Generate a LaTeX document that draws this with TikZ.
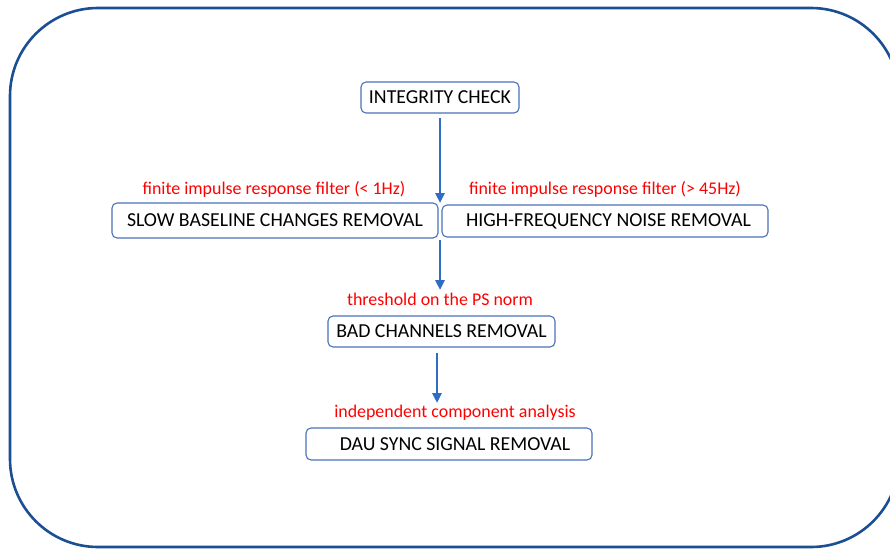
\documentclass[tikz,border=0pt]{standalone}
\usepackage{fontspec}
\setmainfont{Carlito}
\usetikzlibrary{arrows.meta}
\definecolor{framecol}{HTML}{1B4F93}
\definecolor{boxcol}{HTML}{4A72B8}
\definecolor{arrowcol}{HTML}{2F6CC4}
\definecolor{notecol}{HTML}{FF0000}
\tikzset{
  stagebox/.style={draw=boxcol, line width=1.1pt, rounded corners=5pt, fill=white,
    inner sep=0pt, font=\fontsize{19.8}{23}\selectfont, text=black},
  note/.style={font=\fontsize{17.9}{21}\selectfont, text=notecol, inner sep=0pt},
  flow/.style={draw=arrowcol, line width=2.6pt, -{Triangle[length=10pt,width=9pt]}},
}
\begin{document}
\begin{tikzpicture}[x=1pt,y=-1pt]
  \useasboundingbox (0,0) rectangle (890,549);
  % outer frame, running past the right edge
  \draw[framecol, line width=2.6pt, rounded corners=88pt] (10,8) rectangle (899,547);

  % pipeline stages
  \node[stagebox, minimum width=158pt, minimum height=31pt] (integrity) at (440,97.5) {INTEGRITY CHECK};
  \node[stagebox, minimum width=326pt, minimum height=35pt] (slow) at (275,220.5) {SLOW BASELINE CHANGES REMOVAL};
  \node[stagebox, minimum width=326pt, minimum height=32pt] (high) at (605,221) {\hspace*{7pt}HIGH-FREQUENCY NOISE REMOVAL};
  \node[stagebox, minimum width=227pt, minimum height=31pt] (bad) at (441.5,331.5) {BAD CHANNELS REMOVAL};
  \node[stagebox, minimum width=286pt, minimum height=32pt] (dau) at (449,444) {\hspace*{12pt}DAU SYNC SIGNAL REMOVAL};

  % method annotations
  \node[note] (firlow) at (274,189) {finite impulse response filter (< 1Hz)};
  \node[note] (firhigh) at (605,189) {finite impulse response filter (> 45Hz)};
  \node[note] (psnorm) at (440,299) {threshold on the PS norm};
  \node[note] (ica) at (455,413) {independent component analysis};

  % flow arrows
  \coordinate (join) at (440,203);
  \coordinate (mid) at (440,240);
  \draw[flow] (440,118) -- (join);
  \draw[flow] (mid) -- (440,290);
  \draw[flow] (437,353) -- (437,403);
\end{tikzpicture}
\end{document}
